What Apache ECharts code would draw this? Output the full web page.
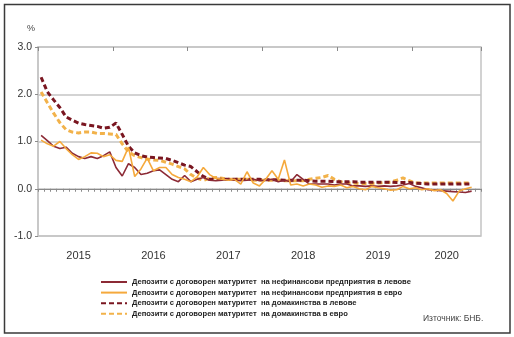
<!DOCTYPE html>
<html>
<head>
<meta charset="utf-8">
<script src="https://cdn.jsdelivr.net/npm/echarts@6/dist/echarts.min.js"></script>
<style>
html,body{margin:0;padding:0;background:#fff;}
#c{width:514px;height:337px;}
</style>
</head>
<body>
<div id="c"></div>
<script>
// ---- data ----
var years = ['2015','2016','2017','2018','2019','2020'];
var monthsInLastYear = 11;
var categories = [];
years.forEach(function(y, yi){
  var n = (yi === years.length - 1) ? monthsInLastYear : 12;
  for (var m = 1; m <= n; m++) categories.push(y + '-' + (m < 10 ? '0' + m : m));
});

var seriesNames = [
  'Депозити с договорен матуритет  на нефинансови предприятия в левове',
  'Депозити с договорен матуритет  на нефинансови предприятия в евро',
  'Депозити с договорен матуритет  на домакинства в левове',
  'Депозити с договорен матуритет  на домакинства в евро'
];

var nfcBgn = [1.13,1.02,0.90,0.85,0.88,0.75,0.68,0.64,0.68,0.64,0.70,0.78,
  0.45,0.27,0.53,0.45,0.30,0.33,0.38,0.40,0.30,0.20,0.15,0.28,
  0.15,0.20,0.24,0.18,0.17,0.18,0.20,0.18,0.17,0.18,0.20,0.17,
  0.18,0.20,0.15,0.18,0.15,0.30,0.20,0.10,0.10,0.10,0.10,0.08,
  0.10,0.10,0.06,0.06,0.05,0.06,0.05,0.06,0.05,0.06,0.08,0.11,
  0.05,0.02,-0.02,-0.03,-0.04,-0.05,-0.06,-0.07,-0.08,-0.05];

var nfcEur = [1.03,0.95,0.90,1.00,0.85,0.72,0.62,0.68,0.76,0.75,0.68,0.72,
  0.60,0.58,0.88,0.26,0.42,0.65,0.38,0.45,0.45,0.30,0.24,0.20,
  0.15,0.25,0.45,0.30,0.22,0.20,0.18,0.20,0.10,0.36,0.12,0.06,
  0.20,0.38,0.20,0.61,0.08,0.10,0.06,0.10,0.08,0.03,0.06,0.05,
  0.08,0.02,0.05,0.00,-0.02,0.05,0.02,0.00,-0.03,-0.02,0.05,0.00,
  0.02,-0.02,0.00,-0.04,-0.02,-0.10,-0.26,-0.05,0.00,0.03];

var hhBgn = [2.36,2.05,1.88,1.72,1.52,1.45,1.39,1.36,1.34,1.32,1.28,1.30,
  1.39,1.15,0.90,0.76,0.70,0.67,0.66,0.65,0.64,0.60,0.55,0.50,
  0.47,0.36,0.26,0.20,0.20,0.20,0.20,0.20,0.20,0.20,0.20,0.20,
  0.19,0.19,0.19,0.18,0.18,0.18,0.18,0.17,0.16,0.16,0.16,0.15,
  0.15,0.15,0.15,0.14,0.14,0.14,0.14,0.14,0.14,0.13,0.13,0.13,
  0.12,0.11,0.10,0.10,0.10,0.10,0.10,0.10,0.10,0.10];

var hhEur = [2.05,1.82,1.60,1.40,1.25,1.20,1.18,1.20,1.20,1.17,1.17,1.16,
  1.15,0.95,0.78,0.70,0.66,0.63,0.61,0.60,0.56,0.52,0.47,0.42,
  0.30,0.22,0.18,0.22,0.24,0.22,0.20,0.20,0.20,0.20,0.18,0.18,
  0.18,0.18,0.18,0.17,0.17,0.17,0.17,0.20,0.22,0.24,0.28,0.20,
  0.15,0.12,0.12,0.11,0.11,0.11,0.12,0.13,0.14,0.18,0.23,0.17,
  0.12,0.12,0.12,0.12,0.12,0.12,0.12,0.12,0.12,0.12];

var yTicks = [-1, 0, 1, 2, 3];

// ---- chart ----
var chart = echarts.init(document.getElementById('c'), null, {renderer: 'canvas'});
var font = '"Liberation Sans", Arial, sans-serif';
var gridLine = '#c4c4c4';
var lastYearStart = 12 * (years.length - 1);

function lineSeries(name, data, color, width, type, z) {
  return {
    name: name, type: 'line', data: data, symbol: 'none', smooth: false, z: z,
    xAxisIndex: 0, yAxisIndex: 0,
    lineStyle: {color: color, width: width, type: type},
    itemStyle: {color: color}
  };
}

chart.setOption({
  animation: false,
  backgroundColor: '#fff',
  textStyle: {fontFamily: font},
  grid: {left: 38, right: 33, top: 47, bottom: 101, show: true, borderColor: gridLine, borderWidth: 1.5},
  graphic: [
    {type: 'rect', shape: {x: 4.5, y: 4.5, width: 505.5, height: 328.5}, style: {fill: 'none', stroke: '#3a3a3a', lineWidth: 1.5}, z: -1},
    {type: 'text', left: 27, top: 24, style: {text: '%', fontSize: 9, fill: '#444', fontFamily: font}},
    {type: 'text', left: 423, top: 314, style: {text: 'Източник: БНБ.', fontSize: 8.5, fill: '#444', fontFamily: font}}
  ],
  legend: {
    orient: 'vertical', left: 95, top: 273, itemWidth: 26, itemHeight: 9, itemGap: 2.6,
    itemStyle: {opacity: 0},
    textStyle: {fontSize: 7.6, fontWeight: 'bold', color: '#222', fontFamily: font},
    data: seriesNames
  },
  xAxis: [
    {
      type: 'category', data: categories, boundaryGap: true,
      axisLine: {onZero: true, lineStyle: {color: '#8a8a8a', width: 1}},
      axisTick: {show: true, interval: 0, length: 3, lineStyle: {color: '#8a8a8a'}},
      axisLabel: {show: false}, splitLine: {show: false}
    },
    {
      type: 'category', data: categories, boundaryGap: true,
      axisLine: {show: false, onZero: true},
      axisTick: {show: true, interval: 11, inside: true, length: 4, lineStyle: {color: '#8a8a8a'}},
      axisLabel: {show: false}, splitLine: {show: false}
    },
    {
      type: 'category', data: categories, boundaryGap: true, position: 'bottom',
      axisLine: {show: false, onZero: false}, axisTick: {show: false},
      axisLabel: {
        show: true, margin: 14, fontSize: 11, color: '#333', fontFamily: font,
        interval: function (i) { return i >= lastYearStart ? (i - lastYearStart) === 5 : i % 12 === 6; },
        formatter: function (v) { return v.slice(0, 4); }
      },
      splitLine: {show: false}
    }
  ],
  yAxis: {
    type: 'value', min: yTicks[0], max: yTicks[yTicks.length - 1], interval: 1,
    axisLine: {show: true, lineStyle: {color: gridLine, width: 1.5}},
    axisTick: {show: true, length: 3, lineStyle: {color: '#8a8a8a'}},
    axisLabel: {fontSize: 10.5, color: '#333', margin: 6, fontFamily: font, formatter: function (v) { return v.toFixed(1); }},
    splitLine: {lineStyle: {color: gridLine, width: 1.5}}
  },
  series: [
    lineSeries(seriesNames[0], nfcBgn, '#8c2a35', 1.6, 'solid', 4),
    lineSeries(seriesNames[1], nfcEur, '#f5a93c', 1.6, 'solid', 5),
    lineSeries(seriesNames[2], hhBgn, '#7a1620', 3, [5, 3], 3),
    lineSeries(seriesNames[3], hhEur, '#f2b24a', 3, [5, 3], 2)
  ]
});
</script>
</body>
</html>
